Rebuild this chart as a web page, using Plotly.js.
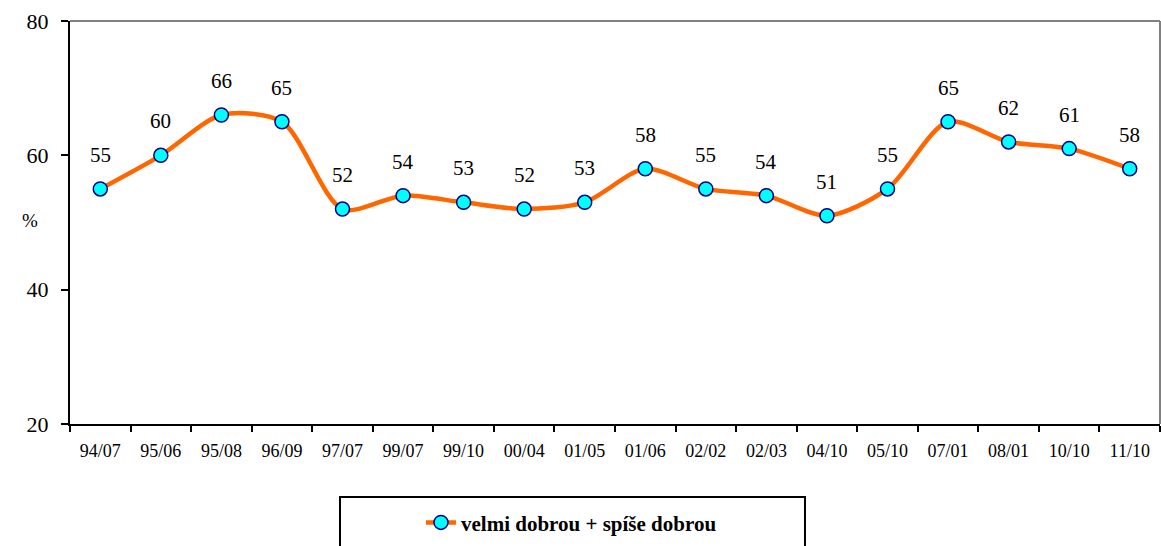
<!DOCTYPE html>
<html>
<head>
<meta charset="utf-8">
<script src="https://cdn.plot.ly/plotly-3.0.1.min.js"></script>
<style>html,body{margin:0;padding:0;background:#fff;}#chart{width:1161px;height:546px;}</style>
</head>
<body>
<div id="chart"></div>
<script>
const categories = ["94/07","95/06","95/08","96/09","97/07","99/07","99/10","00/04","01/05","01/06","02/02","02/03","04/10","05/10","07/01","08/01","10/10","11/10"];
const values = [55,60,66,65,52,54,53,52,53,58,55,54,51,55,65,62,61,58];
const seriesName = "velmi dobrou + spíše dobrou";
const yTicks = [20,40,60,80];

const serif = "Liberation Serif";

const trace = {
  x: categories,
  y: values,
  type: "scatter",
  mode: "lines+markers",
  name: seriesName,
  line: {color: "#FF6600", width: 4.5, shape: "spline", smoothing: 0.8},
  marker: {color: "#00FFFF", size: 14, line: {color: "#000080", width: 1.5}},
  hoverinfo: "skip"
};

const labelAnnotations = categories.map((c, i) => ({
  x: c, y: values[i], xref: "x", yref: "y",
  text: String(values[i]), showarrow: false,
  yshift: 34, font: {family: serif, size: 21, color: "#000"}
}));

labelAnnotations.push({
  xref: "paper", yref: "paper", x: -0.046, y: 0.505,
  text: "%", showarrow: false, font: {family: serif, size: 19, color: "#000"}
});

const layout = {
  width: 1161, height: 546,
  margin: {l: 70, r: 1, t: 21, b: 122},
  paper_bgcolor: "#fff", plot_bgcolor: "#fff",
  font: {family: serif, color: "#000"},
  showlegend: true,
  legend: {
    x: 0.322, y: -0.245, xanchor: "left", yanchor: "middle",
    orientation: "h", bgcolor: "rgba(0,0,0,0)", borderwidth: 0,
    font: {family: serif, size: 21, color: "#000", weight: "bold"}
  },
  xaxis: {
    type: "category",
    showgrid: false, zeroline: false,
    showline: true, linecolor: "#000", linewidth: 2,
    ticks: "outside", ticklen: 6, tickcolor: "#000", tickwidth: 2,
    tickson: "boundaries", ticklabelstandoff: 9,
    tickfont: {family: serif, size: 18, color: "#000"},
    range: [-0.5, categories.length - 0.5]
  },
  yaxis: {
    range: [20, 80], tickvals: yTicks, ticktext: yTicks.map(String),
    showgrid: false, zeroline: false,
    showline: true, linecolor: "#000", linewidth: 2,
    ticks: "outside", ticklen: 7, tickcolor: "#000", tickwidth: 2,
    ticklabelstandoff: 8,
    tickfont: {family: serif, size: 22, color: "#000"}
  },
  shapes: [
    {type: "line", xref: "paper", yref: "paper", x0: 0, x1: 1, y0: 1, y1: 1, line: {color: "#808080", width: 2}},
    {type: "line", xref: "paper", yref: "paper", x0: 1, x1: 1, y0: 0, y1: 1, line: {color: "#808080", width: 2}},
    {type: "rect", xref: "paper", yref: "paper", x0: 0.2477, x1: 0.6743, y0: -0.1811, y1: -0.35, line: {color: "#000", width: 2}, fillcolor: "rgba(0,0,0,0)"}
  ],
  annotations: labelAnnotations
};

Plotly.newPlot("chart", [trace], layout, {displayModeBar: false, staticPlot: true});
</script>
</body>
</html>
